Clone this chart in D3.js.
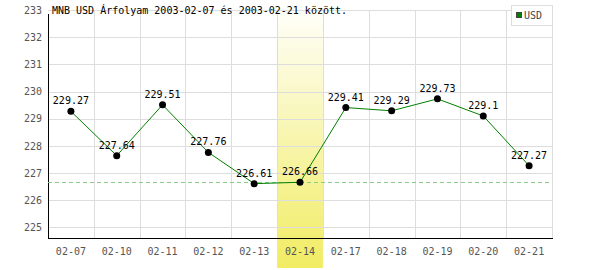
<!DOCTYPE html>
<html>
<head>
<meta charset="utf-8">
<script src="https://cdn.jsdelivr.net/npm/d3@7"></script>
<style>
  body { margin: 0; background: #fff; }
  svg { display: block; }
  text { font-family: "DejaVu Sans Mono", "Liberation Mono", monospace; }
</style>
</head>
<body>
<div id="chart"></div>
<script>
let width = 600;
let height = 270;

// data
let days = ["02-07", "02-10", "02-11", "02-12", "02-13", "02-14", "02-17", "02-18", "02-19", "02-20", "02-21"];
let rates = [229.27, 227.64, 229.51, 227.76, 226.61, 226.66, 229.41, 229.29, 229.73, 229.1, 227.27];
let yTicks = [225, 226, 227, 228, 229, 230, 231, 232, 233];
let highlightDay = "02-14";
let titleText = "MNB USD Árfolyam 2003-02-07 és 2003-02-21 között.";
let seriesName = "USD";

let plotLeft = 48, plotRight = 552, plotTop = 10, plotBottom = 238;

let svg = d3.select("#chart")
  .append("svg")
    .attr("width", width)
    .attr("height", height);

let xScale = d3.scaleBand().domain(days).range([plotLeft, plotRight]).padding(0);
let yScale = d3.scaleLinear().domain([224.61, 233]).range([plotBottom, plotTop]);

// gradient for the highlighted day
let defs = svg.append("defs");
let grad = defs.append("linearGradient")
  .attr("id", "hl")
  .attr("x1", 0).attr("y1", 0).attr("x2", 0).attr("y2", 1);
grad.append("stop").attr("offset", "0%").attr("stop-color", "#ffffff");
grad.append("stop").attr("offset", "100%").attr("stop-color", "#f1ec62");

svg.append("rect")
  .attr("x", xScale(highlightDay))
  .attr("y", 0)
  .attr("width", xScale.bandwidth())
  .attr("height", 268)
  .attr("fill", "url(#hl)");

// grid
svg.selectAll(".hgrid").data(yTicks).enter()
  .append("line")
    .attr("class", "hgrid")
    .attr("x1", plotLeft).attr("x2", plotRight)
    .attr("y1", d => Math.round(yScale(d)) + 0.5)
    .attr("y2", d => Math.round(yScale(d)) + 0.5)
    .attr("stroke", "#dddddd");

svg.selectAll(".vgrid").data(days).enter()
  .append("line")
    .attr("class", "vgrid")
    .attr("x1", d => Math.round(xScale(d) + xScale.bandwidth()) + 0.5)
    .attr("x2", d => Math.round(xScale(d) + xScale.bandwidth()) + 0.5)
    .attr("y1", plotTop).attr("y2", plotBottom)
    .attr("stroke", "#dddddd");

// axes
let yAxis = d3.axisLeft(yScale).tickValues(yTicks).tickSize(0).tickPadding(6);
let yAxisGroup = svg.append("g").attr("transform", "translate(" + plotLeft + ",0)").call(yAxis);
yAxisGroup.select(".domain").remove();
yAxisGroup.selectAll("text").attr("fill", "#555").style("font-size", "10px");

let xAxis = d3.axisBottom(xScale).tickSize(0).tickPadding(10);
let xAxisGroup = svg.append("g").attr("transform", "translate(0," + plotBottom + ")").call(xAxis);
xAxisGroup.select(".domain").remove();
xAxisGroup.selectAll("text").attr("fill", "#555").style("font-size", "10px");

svg.append("line")
  .attr("x1", plotLeft + 0.5).attr("x2", plotLeft + 0.5)
  .attr("y1", 14).attr("y2", plotBottom + 1)
  .attr("stroke", "#000");
svg.append("line")
  .attr("x1", plotLeft).attr("x2", plotRight + 1)
  .attr("y1", plotBottom + 0.5).attr("y2", plotBottom + 0.5)
  .attr("stroke", "#000");

// reference line at highlighted value
let hlValue = rates[days.indexOf(highlightDay)];
svg.append("line")
  .attr("x1", plotLeft).attr("x2", plotRight)
  .attr("y1", Math.round(yScale(hlValue)) + 0.5)
  .attr("y2", Math.round(yScale(hlValue)) + 0.5)
  .attr("stroke", "#88cc88")
  .attr("stroke-dasharray", "4,3");

// series
let points = days.map((d, i) => ({day: d, value: rates[i]}));
let cx = d => xScale(d.day) + xScale.bandwidth() / 2;

svg.append("path")
  .datum(points)
  .attr("fill", "none")
  .attr("stroke", "#008000")
  .attr("stroke-width", 1)
  .attr("d", d3.line().x(cx).y(d => yScale(d.value)));

svg.selectAll(".dot").data(points).enter()
  .append("circle")
    .attr("class", "dot")
    .attr("cx", cx)
    .attr("cy", d => yScale(d.value))
    .attr("r", 3.5)
    .attr("fill", "#000");

svg.selectAll(".val").data(points).enter()
  .append("text")
    .attr("class", "val")
    .attr("x", cx)
    .attr("y", d => yScale(d.value) - 7)
    .attr("text-anchor", "middle")
    .style("font-size", "10px")
    .attr("fill", "#000")
    .text(d => d.value);

// title
svg.append("text")
  .attr("x", 52)
  .attr("y", 14)
  .style("font-size", "10px")
  .attr("fill", "#000")
  .text(titleText);

// legend
svg.append("rect")
  .attr("x", 511.5).attr("y", 5.5)
  .attr("width", 41).attr("height", 20)
  .attr("fill", "#fff")
  .attr("stroke", "#dddddd");
svg.append("rect")
  .attr("x", 516.5).attr("y", 12.5)
  .attr("width", 5).attr("height", 5)
  .attr("fill", "#008000")
  .attr("stroke", "#444");
svg.append("text")
  .attr("x", 524)
  .attr("y", 19)
  .style("font-size", "10px")
  .attr("fill", "#444")
  .text(seriesName);
</script>
</body>
</html>
